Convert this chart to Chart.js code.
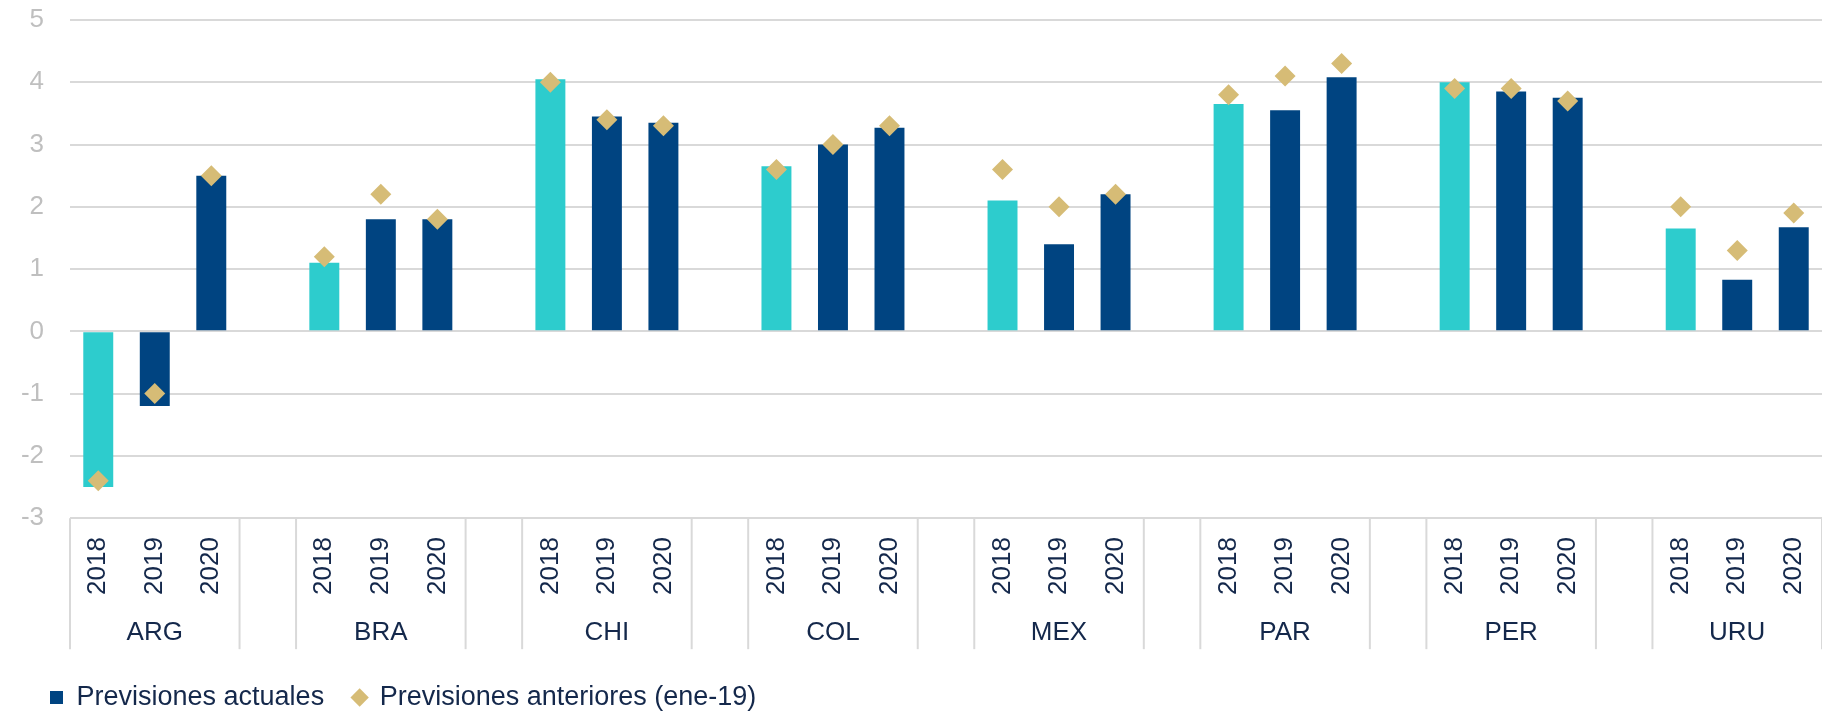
<!DOCTYPE html>
<html>
<head>
<meta charset="utf-8">
<script src="https://cdn.jsdelivr.net/npm/chart.js@4.4.1/dist/chart.umd.min.js"></script>
<style>
  html, body { margin: 0; padding: 0; background: #fff; }
  #wrap { width: 1822px; height: 712px; }
</style>
</head>
<body>
<div id="wrap"><canvas id="myChart" width="1822" height="712"></canvas></div>
<script>
const countries = ['ARG', 'BRA', 'CHI', 'COL', 'MEX', 'PAR', 'PER', 'URU'];
const years = ['2018', '2019', '2020'];
// 3 values per country, in the order of countries
const actuales = [-2.5, -1.2, 2.5, 1.1, 1.8, 1.8, 4.05, 3.45, 3.35, 2.65, 3.0, 3.27,
                  2.1, 1.4, 2.2, 3.65, 3.55, 4.08, 4.0, 3.85, 3.75, 1.65, 0.83, 1.67];
const anteriores = [-2.4, -1.0, 2.5, 1.2, 2.2, 1.8, 4.0, 3.4, 3.3, 2.6, 3.0, 3.3,
                    2.6, 2.0, 2.2, 3.8, 4.1, 4.3, 3.9, 3.9, 3.7, 2.0, 1.3, 1.9];
const yTicks = [-3, -2, -1, 0, 1, 2, 3, 4, 5];

const NAVY = '#004481';
const AQUA = '#2DCCCD';
const SAND = '#D6BC76';
const GRID = '#d9d9d9';
const TEXT = '#14284b';

// one empty category between countries
const labels = [], barData = [], diaData = [], barColors = [];
countries.forEach((c, i) => {
  years.forEach((y, j) => {
    labels.push(y);
    barData.push(actuales[i * 3 + j]);
    diaData.push(anteriores[i * 3 + j]);
    barColors.push(j === 0 ? AQUA : NAVY);
  });
  if (i < countries.length - 1) {
    labels.push('');
    barData.push(null);
    diaData.push(null);
    barColors.push(null);
  }
});

// country row + dividers under the year labels
const groupAxis = {
  id: 'groupAxis',
  afterDraw(chart) {
    const { ctx, chartArea } = chart;
    const x = chart.scales.x;
    const half = (x.getPixelForValue(1) - x.getPixelForValue(0)) / 2;
    const top = chartArea.bottom;
    ctx.save();
    ctx.strokeStyle = GRID;
    ctx.lineWidth = 2;
    ctx.fillStyle = TEXT;
    ctx.font = '26px "Liberation Sans", Arial, sans-serif';
    ctx.textAlign = 'center';
    ctx.textBaseline = 'middle';
    countries.forEach((c, i) => {
      const left = x.getPixelForValue(i * 4) - half;
      const right = x.getPixelForValue(i * 4 + 2) + half;
      [left, right].forEach(px => {
        ctx.beginPath();
        ctx.moveTo(px, top);
        ctx.lineTo(px, top + 131);
        ctx.stroke();
      });
      ctx.fillText(c, (left + right) / 2, top + 115);
    });
    ctx.restore();
  }
};

const ctx = document.getElementById('myChart').getContext('2d');
new Chart(ctx, {
  data: {
    labels: labels,
    datasets: [
      {
        type: 'bar',
        label: 'Previsiones actuales',
        data: barData,
        backgroundColor: barColors,
        barPercentage: 0.53,
        categoryPercentage: 1,
        pointStyle: 'rect',
        order: 1
      },
      {
        type: 'line',
        label: 'Previsiones anteriores (ene-19)',
        data: diaData,
        showLine: false,
        pointStyle: 'rectRot',
        pointRadius: 10.5,
        pointHoverRadius: 10.5,
        backgroundColor: SAND,
        borderColor: SAND,
        pointBorderWidth: 0,
        order: 0
      }
    ]
  },
  options: {
    responsive: false,
    animation: false,
    layout: { autoPadding: false, padding: { top: 20, left: 21, right: -3, bottom: 0 } },
    scales: {
      y: {
        min: -3,
        max: 5,
        afterBuildTicks: (scale) => { scale.ticks = yTicks.map(v => ({ value: v })); },
        afterFit: (scale) => {
          scale.width = 49;
          scale.paddingTop = 0;
          scale.paddingBottom = 0;
        },
        grid: { color: GRID, lineWidth: 2, drawTicks: false },
        border: { display: false },
        ticks: {
          color: '#bfbfbf',
          padding: 26,
          font: { family: '"Liberation Sans", Arial, sans-serif', size: 26 }
        }
      },
      x: {
        grid: { display: false, drawTicks: false },
        border: { display: false },
        afterFit: (scale) => {
          scale.height += 41;
          scale.paddingLeft = 0;
          scale.paddingRight = 0;
        },
        ticks: {
          autoSkip: false,
          maxRotation: 90,
          minRotation: 90,
          padding: 19,
          color: TEXT,
          font: { family: '"Liberation Sans", Arial, sans-serif', size: 26 }
        }
      }
    },
    plugins: {
      tooltip: { enabled: false },
      legend: {
        position: 'bottom',
        align: 'start',
        maxHeight: 57,
        labels: {
          usePointStyle: true,
          boxWidth: 13,
          boxHeight: 13,
          padding: 29,
          color: TEXT,
          font: { family: '"Liberation Sans", Arial, sans-serif', size: 27, lineHeight: 1 },
          sort: (a, b) => a.datasetIndex - b.datasetIndex,
          generateLabels: (chart) => {
            const items = Chart.defaults.plugins.legend.labels.generateLabels(chart);
            items.forEach(it => {
              it.lineWidth = 0;
              if (it.datasetIndex === 0) { it.fillStyle = NAVY; it.strokeStyle = NAVY; }
              else { it.fillStyle = SAND; it.strokeStyle = SAND; }
            });
            return items;
          }
        }
      }
    }
  },
  plugins: [groupAxis]
});
</script>
</body>
</html>
